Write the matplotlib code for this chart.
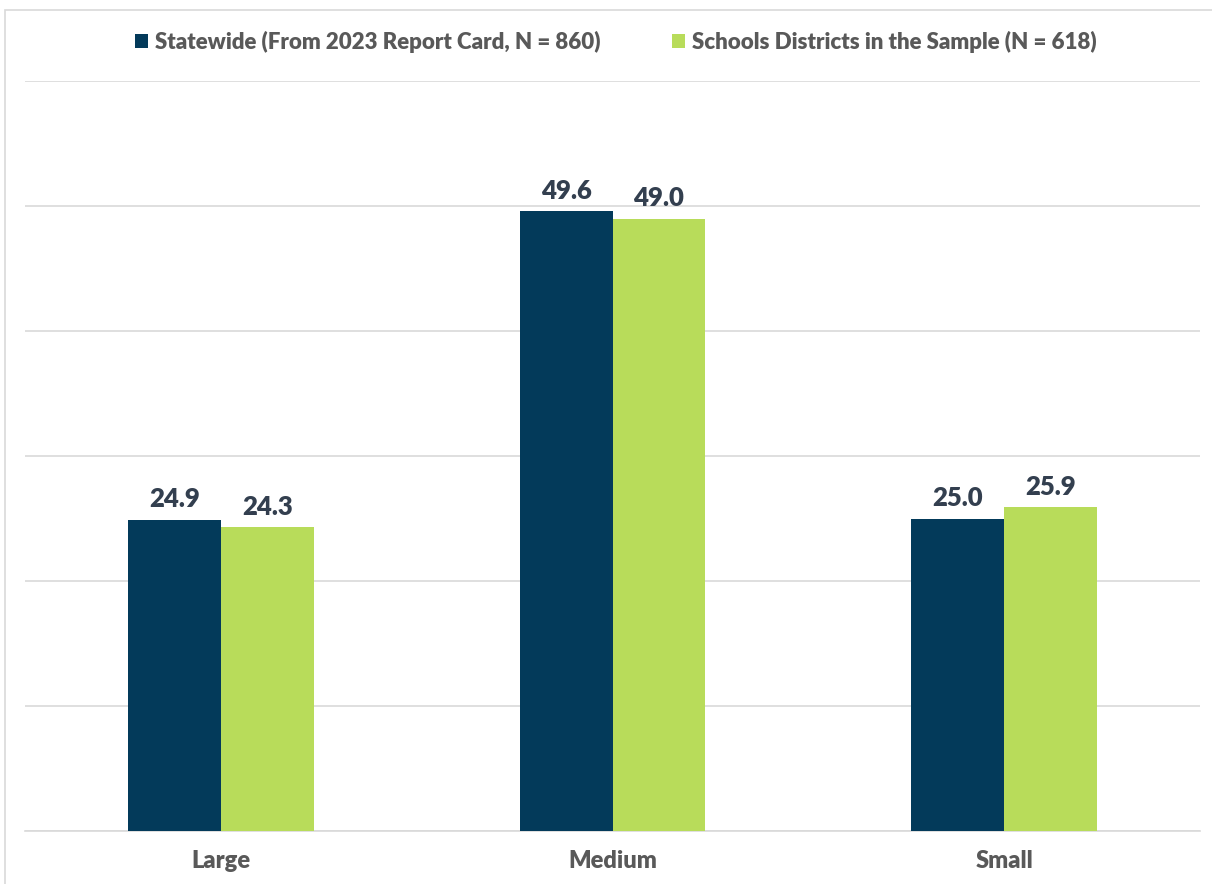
import matplotlib.pyplot as plt
from matplotlib.patches import Rectangle
import numpy as np

categories = ["Large", "Medium", "Small"]
statewide = [24.9, 49.6, 25.0]
sample = [24.3, 49.0, 25.9]
series_names = ["Statewide (From 2023 Report Card, N = 860)",
                "Schools Districts in the Sample (N = 618)"]

dark_blue = "#033A5A"
lime = "#B8DC5A"
label_col = "#333F4F"
tick_col = "#595959"

plt.rcParams['font.family'] = ['Lato', 'DejaVu Sans']

fig = plt.figure(figsize=(12.12, 8.84), dpi=100)
ax = fig.add_axes([25/1212, 53/884, 1175/1212, 750/884])

x = np.arange(len(categories))
w = 0.237
b1 = ax.bar(x - w/2, statewide, w, color=dark_blue, label=series_names[0], zorder=3)
b2 = ax.bar(x + w/2, sample, w, color=lime, label=series_names[1], zorder=3)

for bars, vals in ((b1, statewide), (b2, sample)):
    for rect, v in zip(bars, vals):
        ax.annotate(f"{v:.1f}", (rect.get_x() + rect.get_width()/2, v),
                    xytext=(0, 6), textcoords="offset points",
                    ha="center", va="bottom", fontsize=18.5, fontweight="heavy",
                    color=label_col)

ax.set_xlim(-0.5, 2.5)
ax.set_ylim(0, 60)
ax.set_yticks(np.arange(0, 61, 10))
ax.yaxis.grid(True, color="#D9D9D9", linewidth=1.2, zorder=0)
ax.tick_params(axis="y", left=False, labelleft=False)
ax.set_xticks(x)
ax.set_xticklabels(categories, fontsize=17, fontweight="heavy", color=tick_col)
ax.tick_params(axis="x", length=0, pad=14)
for s in ["top", "right", "left"]:
    ax.spines[s].set_visible(False)
ax.spines["bottom"].set_color("#D9D9D9")
ax.spines["bottom"].set_linewidth(1.2)

leg = fig.legend(loc="center", bbox_to_anchor=(0.508, 1 - 42/884), ncol=2,
                 frameon=False, fontsize=16, handlelength=0.6, handleheight=0.6,
                 handletextpad=0.3, columnspacing=3.2)
for t in leg.get_texts():
    t.set_color(tick_col)
    t.set_fontweight("heavy")

# chart outline
fig.patches.append(Rectangle((5/1212, -0.1), 1.2, 1 - 10/884 + 0.1,
                             transform=fig.transFigure, fill=False,
                             edgecolor="#D9D9D9", linewidth=1.2))

fig.savefig("out.png", dpi=100)
